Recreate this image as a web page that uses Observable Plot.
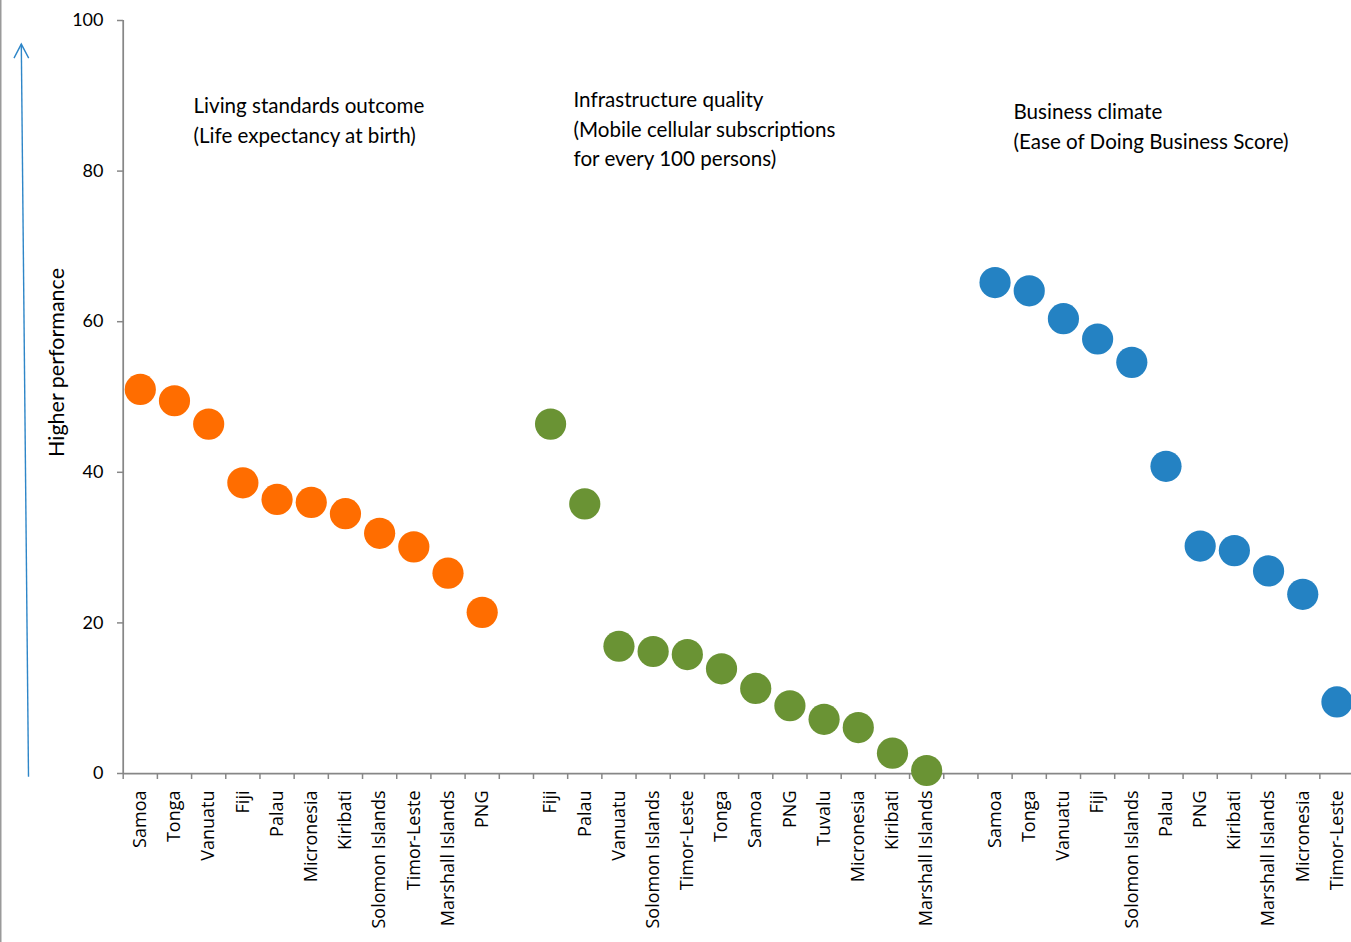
<!DOCTYPE html>
<html>
<head>
<meta charset="utf-8">
<script src="https://cdn.jsdelivr.net/npm/d3@7"></script>
<script src="https://cdn.jsdelivr.net/npm/@observablehq/plot@0.6"></script>
<style>
  html, body { margin: 0; padding: 0; background: #fff; }
  #chart { width: 1351px; height: 942px; overflow: hidden; }
</style>
</head>
<body>
<div id="chart"></div>
<script>
// Living standards: life expectancy at birth (scaled score)
const livingCountries = ["Samoa", "Tonga", "Vanuatu", "Fiji", "Palau", "Micronesia", "Kiribati", "Solomon Islands", "Timor-Leste", "Marshall Islands", "PNG"];
const livingValues = [51.0, 49.5, 46.4, 38.6, 36.4, 36.0, 34.5, 31.9, 30.1, 26.6, 21.4];

// Infrastructure: mobile cellular subscriptions per 100 persons (scaled score)
const infraCountries = ["Fiji", "Palau", "Vanuatu", "Solomon Islands", "Timor-Leste", "Tonga", "Samoa", "PNG", "Tuvalu", "Micronesia", "Kiribati", "Marshall Islands"];
const infraValues = [46.4, 35.8, 16.9, 16.2, 15.8, 13.9, 11.3, 9.0, 7.2, 6.1, 2.7, 0.4];

// Business climate: Ease of Doing Business score
const businessCountries = ["Samoa", "Tonga", "Vanuatu", "Fiji", "Solomon Islands", "Palau", "PNG", "Kiribati", "Marshall Islands", "Micronesia", "Timor-Leste"];
const businessValues = [65.2, 64.1, 60.4, 57.7, 54.6, 40.8, 30.2, 29.6, 26.9, 23.8, 9.5];

const groupIds = ["living", "infra", "business"];
const groupColors = ["#ff6d00", "#6a9334", "#2482c3"];
const panelNotes = [
  "Living standards outcome\n(Life expectancy at birth)",
  "Infrastructure quality\n(Mobile cellular subscriptions\nfor every 100 persons)",
  "Business climate\n(Ease of Doing Business Score)"
];
const yTicks = [0, 20, 40, 60, 80, 100];
const yLabel = "Higher performance";

// One band per country per panel, with an empty band between panels
const groups = [
  {id: groupIds[0], countries: livingCountries, values: livingValues},
  {id: groupIds[1], countries: infraCountries, values: infraValues},
  {id: groupIds[2], countries: businessCountries, values: businessValues}
];
const slots = [];
const slotName = new Map();
const rows = [];
groups.forEach((g, gi) => {
  if (gi > 0) {
    const gap = `gap${gi}`;
    slots.push(gap);
    slotName.set(gap, "");
  }
  g.countries.forEach((c, i) => {
    const key = `${g.id}:${c}`;
    slots.push(key);
    slotName.set(key, c);
    rows.push({slot: key, value: g.values[i], group: g.id});
  });
});

const W = 1351, H = 942;
const x0 = 122.7, step = 34.19;
const gray = "#878787";
const noteFont = "Lato, 'Open Sans', sans-serif";
const noteStyle = {frameAnchor: "top-left", textAnchor: "start", lineAnchor: "top", lineHeight: 1.43, fontSize: 20.6, fontFamily: noteFont, fill: "#000"};

const plot = Plot.plot({
  width: W,
  height: H,
  marginTop: 20,
  marginBottom: 169,
  marginLeft: 123,
  marginRight: 0,
  style: {background: "#fff", color: "#000", fontFamily: noteFont, overflow: "visible"},
  x: {type: "band", domain: slots, range: [x0, x0 + slots.length * step], padding: 0, round: false},
  y: {domain: [0, 100]},
  color: {domain: groupIds, range: groupColors},
  marks: [
    // axis lines
    Plot.ruleY([0], {stroke: gray, strokeWidth: 1.75}),
    Plot.ruleX([slots[0]], {y1: 0, y2: 100, dx: -step / 2, stroke: gray, strokeWidth: 1.75}),
    // category boundary ticks
    Plot.axisX(slots, {tickSize: 6, fill: "none", stroke: gray, strokeWidth: 1.5, dx: -step / 2, label: null, tickFormat: null}),
    // category labels
    Plot.axisX(slots, {
      tickSize: 0, tickPadding: 17, tickRotate: -90, label: null,
      tickFormat: (k) => slotName.get(k),
      fontSize: 18, fontFamily: "'Open Sans', sans-serif", fill: "#000"
    }),
    Plot.axisY(yTicks, {
      tickSize: 6, tickPadding: 14, stroke: gray, strokeWidth: 1.5, label: null,
      fontSize: 18, fontFamily: noteFont, fill: "#000"
    }),
    Plot.dot(rows, {x: "slot", y: "value", fill: "group", r: 15.6}),
    // panel notes
    Plot.text([panelNotes[0]], {...noteStyle, dx: 70, dy: 72}),
    Plot.text([panelNotes[1]], {...noteStyle, dx: 450, dy: 66}),
    Plot.text([panelNotes[2]], {...noteStyle, dx: 890, dy: 78}),
    // y-axis title
    Plot.text([yLabel], {frameAnchor: "left", textAnchor: "middle", rotate: -90, dx: -66, dy: -34.5, fontSize: 21.5, fontFamily: noteFont, fill: "#000"})
  ]
});

document.getElementById("chart").appendChild(plot);

// Decorations: chart border on the left and the "higher performance" arrow
const svg = d3.select(plot);
const y = plot.scale("y");
svg.append("line")
  .attr("x1", 0.75).attr("x2", 0.75).attr("y1", 0).attr("y2", H)
  .attr("stroke", "#9a9a9a").attr("stroke-width", 1.5);
const tipY = y.apply(96.8), baseY = y.apply(-0.5);
const arrow = svg.append("g").attr("stroke", "#2e86c8").attr("stroke-width", 1.4).attr("fill", "none");
arrow.append("line").attr("x1", 28.5).attr("y1", baseY).attr("x2", 21.3).attr("y2", tipY);
arrow.append("polyline").attr("points", `14,${tipY + 14} 21.3,${tipY} 28.7,${tipY + 14}`);
</script>
</body>
</html>
